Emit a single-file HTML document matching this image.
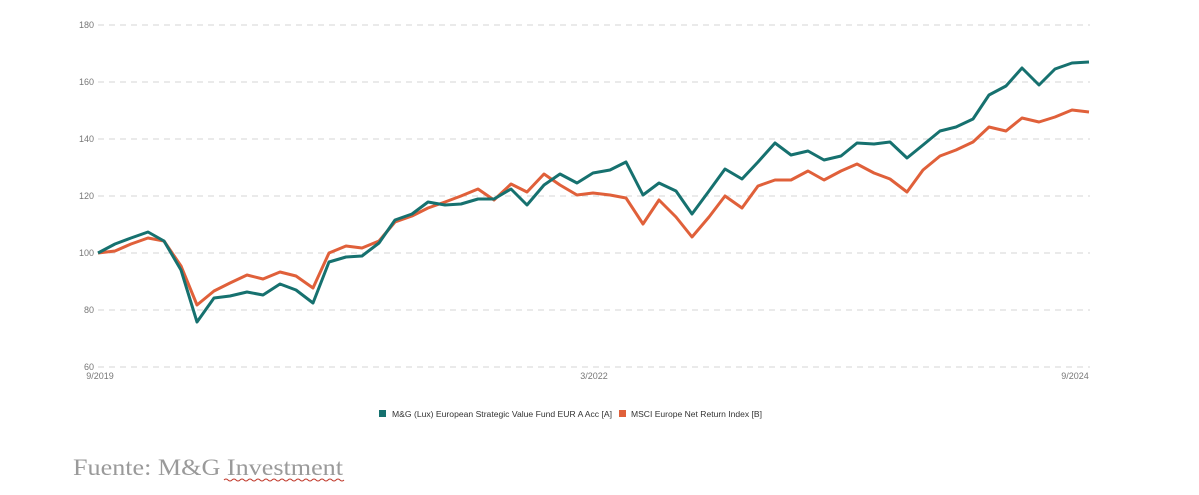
<!DOCTYPE html>
<html><head><meta charset="utf-8"><style>
body{margin:0;background:#fff;width:1199px;height:495px;overflow:hidden}
</style></head><body>
<svg width="1199" height="495" xmlns="http://www.w3.org/2000/svg" style="position:absolute;left:0;top:0">
<g stroke="#d6d6d6" stroke-width="1" stroke-dasharray="6,5">
<line x1="98" y1="25" x2="1090" y2="25"/>
<line x1="98" y1="82" x2="1090" y2="82"/>
<line x1="98" y1="139" x2="1090" y2="139"/>
<line x1="98" y1="196" x2="1090" y2="196"/>
<line x1="98" y1="253" x2="1090" y2="253"/>
<line x1="98" y1="310" x2="1090" y2="310"/>
<line x1="98" y1="367" x2="1090" y2="367"/>
</g>
<g font-family="Liberation Sans, sans-serif" font-size="9" fill="#777" text-anchor="end">
<text x="94" y="28">180</text><text x="94" y="85">160</text><text x="94" y="142">140</text>
<text x="94" y="199">120</text><text x="94" y="256">100</text><text x="94" y="313">80</text><text x="94" y="370">60</text>
</g>
<g font-family="Liberation Sans, sans-serif" font-size="9" fill="#777" text-anchor="middle">
<text x="100" y="379">9/2019</text><text x="594" y="379">3/2022</text><text x="1075" y="379">9/2024</text>
</g>
<polyline fill="none" stroke="#e0603a" stroke-width="3" stroke-linejoin="round" points="98,253 115,251 131,244 148,238 164,241 181,266 197,305 214,291 230,283 247,275 263,279 280,272 296,276 313,288 329,253 346,246 362,248 379,241 395,222 412,216 428,208 445,202 461,196 478,189 494,200 511,184 527,192 544,174 560,185 577,195 593,193 610,195 626,198 643,224 659,200 676,217 692,237 709,217 725,196 742,208 758,186 775,180 791,180 808,171 824,180 841,171 857,164 874,173 890,179 907,192 923,170 940,156 956,150 973,142 989,127 1006,131 1022,118 1039,122 1055,117 1072,110 1089,112"/>
<polyline fill="none" stroke="#16716f" stroke-width="3" stroke-linejoin="round" points="98,253 115,244 131,238 148,232 164,241 181,270 197,322 214,298 230,296 247,292 263,295 280,284 296,290 313,303 329,262 346,257 362,256 379,243 395,220 412,214 428,202 445,205 461,204 478,199 494,199 511,189 527,205 544,185 560,174 577,183 593,173 610,170 626,162 643,195 659,183 676,191 692,214 709,191 725,169 742,179 758,162 775,143 791,155 808,151 824,160 841,156 857,143 874,144 890,142 907,158 923,145 940,131 956,127 973,119 989,95 1006,86 1022,68 1039,85 1055,69 1072,63 1089,62"/>
<rect x="379" y="410" width="7" height="7" fill="#16716f"/>
<rect x="619" y="410" width="7" height="7" fill="#e0603a"/>
<text x="392" y="417" font-family="Liberation Sans, sans-serif" font-size="8" fill="#333" textLength="220" lengthAdjust="spacingAndGlyphs">M&amp;G (Lux) European Strategic Value Fund EUR A Acc [A]</text>
<text x="631" y="417" font-family="Liberation Sans, sans-serif" font-size="8" fill="#333" textLength="131" lengthAdjust="spacingAndGlyphs">MSCI Europe Net Return Index [B]</text>
<text x="73" y="475" font-family="Liberation Serif, serif" font-size="23" fill="#9a9a9a" textLength="270" lengthAdjust="spacingAndGlyphs">Fuente: M&amp;G Investment</text>
<path d="M224,480 q2,-2 4,0 t4,0 t4,0 t4,0 t4,0 t4,0 t4,0 t4,0 t4,0 t4,0 t4,0 t4,0 t4,0 t4,0 t4,0 t4,0 t4,0 t4,0 t4,0 t4,0 t4,0 t4,0 t4,0 t4,0 t4,0 t4,0 t4,0 t4,0 t4,0 t4,0" fill="none" stroke="#c0392b" stroke-width="1"/>
</svg>
</body></html>
